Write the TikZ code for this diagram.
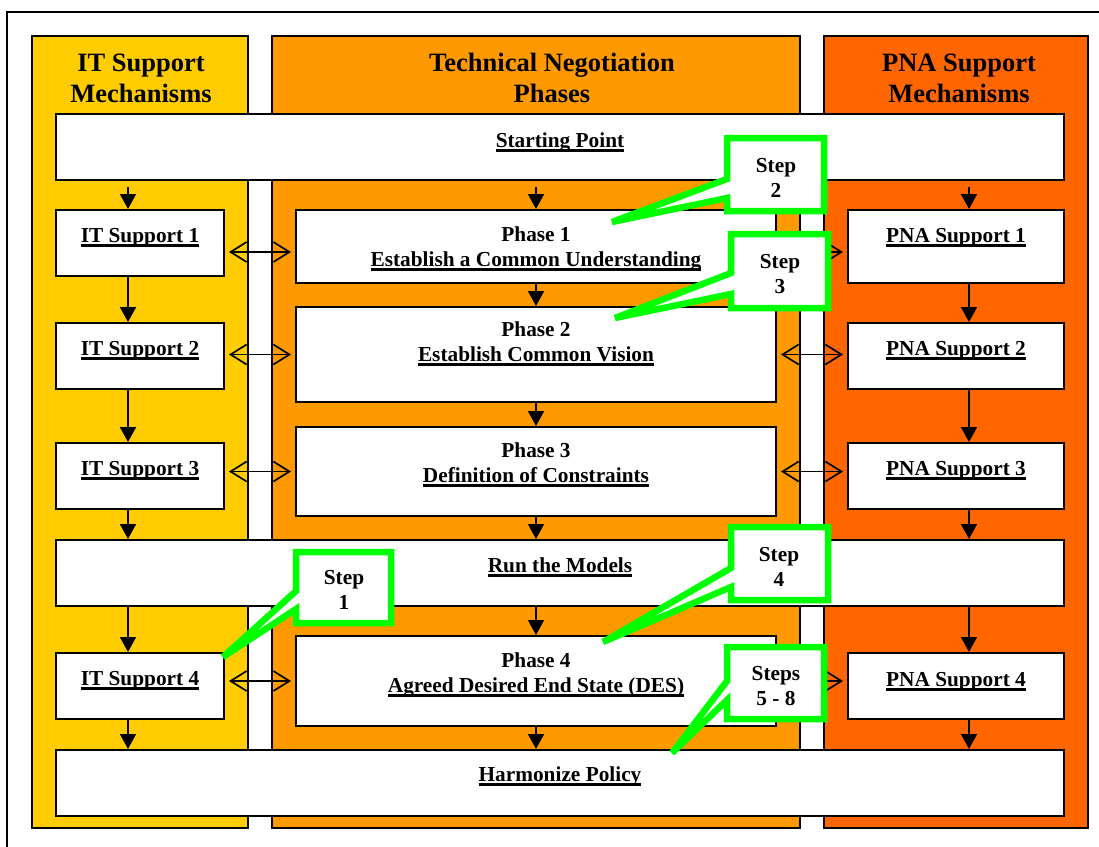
\documentclass[tikz,border=0pt]{standalone}
\usepackage{fontspec}
\setmainfont{Liberation Serif}
\usetikzlibrary{arrows.meta}

\definecolor{itcol}{HTML}{FFCC00}
\definecolor{tncol}{HTML}{FF9900}
\definecolor{pnacol}{HTML}{FF6600}
\definecolor{stepgreen}{HTML}{00FF00}

\newcommand{\undl}[1]{\setbox0\hbox{#1}\rlap{\rule[-4.5pt]{\wd0}{2.4pt}}\box0}

\begin{document}
\begin{tikzpicture}[x=1pt, y=-1pt,
  column/.style={draw=black, line width=2pt},
  title/.style={font=\fontsize{26.5}{30.5}\selectfont\bfseries, align=center, anchor=base, inner sep=0pt},
  box/.style={draw=black, fill=white, line width=2pt, inner sep=0pt},
  lbl/.style={font=\fontsize{21.3}{24.5}\selectfont\bfseries, align=center, anchor=base, inner sep=0pt},
  down/.style={-{Triangle[length=15pt,width=16pt]}, line width=1.6pt},
  both/.style={{Straight Barb[length=16pt,width=20pt]}-{Straight Barb[length=16pt,width=20pt]}, line width=1.7pt, shorten <=4pt, shorten >=4pt},
  stepline/.style={draw=stepgreen, fill=white, line width=6.5pt, miter limit=4}]
\useasboundingbox (0,0) rectangle (1099,846);
\clip (0,0) rectangle (1099,846);

% frame and the three columns
\draw[line width=2pt] (7,870) -- (7,12) -- (1120,12);
\draw[column, fill=itcol] (32,36) rectangle (248,828);
\draw[column, fill=tncol] (272,36) rectangle (800,828);
\draw[column, fill=pnacol] (824,36) rectangle (1088,828);

% (base of a two-line node = its last line)
\node[title] (tit) at (141,102) {IT Support\\Mechanisms};
\node[title] (ttn) at (552,102) {Technical Negotiation\\Phases};
\node[title] (tpna) at (959,102) {PNA Support\\Mechanisms};

% boxes
\node[box, minimum width=1008, minimum height=66] (sp) at (560,147) {};
\node[box, minimum width=1008, minimum height=66] (rm) at (560,573) {};
\node[box, minimum width=1008, minimum height=66] (hp) at (560,783) {};

\node[box, minimum width=168, minimum height=66] (it1) at (140,243) {};
\node[box, minimum width=168, minimum height=66] (it2) at (140,356) {};
\node[box, minimum width=168, minimum height=66] (it3) at (140,476) {};
\node[box, minimum width=168, minimum height=66] (it4) at (140,686) {};

\node[box, minimum width=480, minimum height=73] (p1) at (536,246.5) {};
\node[box, minimum width=480, minimum height=95] (p2) at (536,354.5) {};
\node[box, minimum width=480, minimum height=89] (p3) at (536,471.5) {};
\node[box, minimum width=480, minimum height=90] (p4) at (536,681) {};

\node[box, minimum width=216, minimum height=73] (pna1) at (956,246.5) {};
\node[box, minimum width=216, minimum height=66] (pna2) at (956,356) {};
\node[box, minimum width=216, minimum height=66] (pna3) at (956,476) {};
\node[box, minimum width=216, minimum height=66] (pna4) at (956,686) {};

% labels
\node[lbl] (tsp) at (560,147) {\undl{Starting Point}};
\node[lbl] (trm) at (560,572) {\undl{Run the Models}};
\node[lbl] (thp) at (560,781) {\undl{Harmonize Policy}};
\node[lbl] (tit1) at (140,242) {\undl{IT Support 1}};
\node[lbl] (tit2) at (140,355) {\undl{IT Support 2}};
\node[lbl] (tit3) at (140,475) {\undl{IT Support 3}};
\node[lbl] (tit4) at (140,685) {\undl{IT Support 4}};
\node[lbl] (tp1) at (536,266) {Phase 1\\\undl{Establish a Common Understanding}};
\node[lbl] (tp2) at (536,361) {Phase 2\\\undl{Establish Common Vision}};
\node[lbl] (tp3) at (536,482) {Phase 3\\\undl{Definition of Constraints}};
\node[lbl] (tp4) at (536,692) {Phase 4\\\undl{Agreed Desired End State (DES)}};
\node[lbl] (tpna1) at (956,242) {\undl{PNA Support 1}};
\node[lbl] (tpna2) at (956,355) {\undl{PNA Support 2}};
\node[lbl] (tpna3) at (956,475) {\undl{PNA Support 3}};
\node[lbl] (tpna4) at (956,686) {\undl{PNA Support 4}};

% arrows down each column
\coordinate (ca) at (128,0);
\coordinate (cb) at (536,0);
\coordinate (cc) at (969,0);

\draw[down, shorten <=6pt] (sp.south -| ca) -- (it1.north -| ca);
\draw[down] (it1.south -| ca) -- (it2.north -| ca);
\draw[down] (it2.south -| ca) -- (it3.north -| ca);
\draw[down] (it3.south -| ca) -- (rm.north -| ca);
\draw[down] (rm.south -| ca) -- (it4.north -| ca);
\draw[down] (it4.south -| ca) -- (hp.north -| ca);

\draw[down, shorten <=6pt] (sp.south -| cb) -- (p1.north);
\draw[down] (p1.south) -- (p2.north);
\draw[down] (p2.south) -- (p3.north);
\draw[down] (p3.south) -- (rm.north -| cb);
\draw[down] (rm.south -| cb) -- (p4.north);
\draw[down] (p4.south) -- (hp.north -| cb);

\draw[down, shorten <=6pt] (sp.south -| cc) -- (pna1.north -| cc);
\draw[down] (pna1.south -| cc) -- (pna2.north -| cc);
\draw[down] (pna2.south -| cc) -- (pna3.north -| cc);
\draw[down] (pna3.south -| cc) -- (rm.north -| cc);
\draw[down] (rm.south -| cc) -- (pna4.north -| cc);
\draw[down] (pna4.south -| cc) -- (hp.north -| cc);

% arrows between the columns
\coordinate (r1) at (0,252);
\draw[both] (it1.east |- r1) -- (p1.west |- r1);
\draw[both] (it2.east |- p2.west) -- (p2.west);
\draw[both] (it3.east |- p3.west) -- (p3.west);
\draw[both] (it4.east |- p4.west) -- (p4.west);
\draw[both] (p1.east |- r1) -- (pna1.west |- r1);
\draw[both] (p2.east) -- (pna2.west |- p2.east);
\draw[both] (p3.east) -- (pna3.west |- p3.east);
\draw[both] (p4.east) -- (pna4.west |- p4.east);

% step callouts
\draw[stepline] (612,222) -- (727,179) -- (727,138) -- (824,138) -- (824,211) -- (727,211) -- (727,198) -- cycle;
\node[lbl] (s2) at (776,197) {Step\\2};
\draw[stepline] (615,318) -- (731,273) -- (731,234) -- (828,234) -- (828,308) -- (731,308) -- (731,294) -- cycle;
\node[lbl] (s3) at (780,293) {Step\\3};
\draw[stepline] (223,657) -- (296,591) -- (296,552) -- (391,552) -- (391,623) -- (296,623) -- (296,609) -- cycle;
\node[lbl] (s1) at (344,609) {Step\\1};
\draw[stepline] (603,642) -- (731,568) -- (731,527) -- (828,527) -- (828,600) -- (731,600) -- (731,587) -- cycle;
\node[lbl] (s4) at (779,586) {Step\\4};
\draw[stepline] (672,753) -- (727,681) -- (727,647) -- (824,647) -- (824,719) -- (727,719) -- (727,700) -- cycle;
\node[lbl] (s5) at (776,705) {Steps\\5 - 8};
\end{tikzpicture}
\end{document}
